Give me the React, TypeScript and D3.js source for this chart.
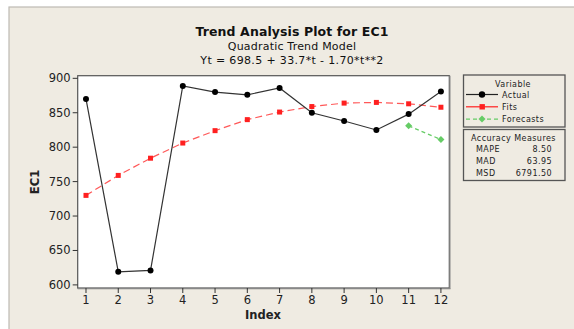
import React from "react";
import * as d3 from "d3";

const indexValues = [1, 2, 3, 4, 5, 6, 7, 8, 9, 10, 11, 12];
const actual = [870, 619, 621, 889, 880, 876, 886, 850, 838, 825, 848, 881];
const fits = [730, 759, 784, 806, 824, 840, 851, 859, 864, 865, 863, 858];
const forecastIndex = [11, 12];
const forecasts = [831, 811];
const yTicks = [600, 650, 700, 750, 800, 850, 900];
const accuracyLabels = ["MAPE", "MAD", "MSD"];
const accuracyValues = ["8.50", "63.95", "6791.50"];
const legendLabels = ["Actual", "Fits", "Forecasts"];

const FONT = "'DejaVu Sans', Verdana, sans-serif";

export default function App() {
  const W = 574, H = 329;
  const left = 77.7, right = 449.3, top = 75.7, bottom = 288;
  const x = d3.scaleLinear().domain([0.743, 12.26]).range([left, right]);
  const y = d3.scaleLinear().domain([595.5, 903.8]).range([bottom, top]);

  const lineA = d3.line<number>().x((_, i) => x(indexValues[i])).y((d) => y(d));
  const lineF = d3.line<number>().x((_, i) => x(indexValues[i])).y((d) => y(d));
  const lineC = d3.line<number>().x((_, i) => x(forecastIndex[i])).y((d) => y(d));

  const diamond = (cx: number, cy: number, r: number) =>
    `M${cx},${cy - r}L${cx + r},${cy}L${cx},${cy + r}L${cx - r},${cy}Z`;

  const black = "#222";
  const red = "#ff2020";
  const green = "#66cc66";
  const ls = 0.45;

  return (
    <svg width={W} height={H} style={{ position: "absolute", left: 0, top: 0 }} fontFamily={FONT}>
      <rect x={0} y={0} width={W} height={H} fill="#ffffff" />
      <rect x={9} y={7} width={W} height={H} fill="#efebe2" stroke="#bdbab3" strokeWidth={1.2} />
      {/* title */}
      <text x={292} y={36} textAnchor="middle" fontSize={12.5} fontWeight="bold" fill="#111" letterSpacing={0.1}>
        Trend Analysis Plot for EC1
      </text>
      <text x={292} y={49.5} textAnchor="middle" fontSize={11} fill="#111" letterSpacing={0.2}>
        Quadratic Trend Model
      </text>
      <text x={292} y={64} textAnchor="middle" fontSize={11} fill="#111" letterSpacing={0.35}>
        Yt = 698.5 + 33.7*t - 1.70*t**2
      </text>

      {/* plot area */}
      <rect x={left} y={top} width={right - left} height={bottom - top} fill="#ffffff" stroke="#555" strokeWidth={1.2} />
      <line x1={right + 0.6} x2={right + 0.6} y1={top} y2={bottom + 0.6} stroke="#888" strokeWidth={1.2} />
      <line x1={left} x2={right + 1.2} y1={bottom + 0.6} y2={bottom + 0.6} stroke="#888" strokeWidth={1.2} />

      {/* y axis */}
      {yTicks.map((t) => (
        <g key={t}>
          <line x1={left - 5} x2={left} y1={y(t)} y2={y(t)} stroke="#333" />
          <text x={left - 7} y={y(t) + 4} textAnchor="end" fontSize={11.5} fill="#222">
            {t}
          </text>
        </g>
      ))}
      {/* x axis */}
      {indexValues.map((t) => (
        <g key={t}>
          <line x1={x(t)} x2={x(t)} y1={bottom} y2={bottom + 5} stroke="#333" />
          <text x={x(t)} y={bottom + 16} textAnchor="middle" fontSize={11.5} fill="#222">
            {t}
          </text>
        </g>
      ))}
      <text x={263} y={319} textAnchor="middle" fontSize={11.5} fontWeight="bold" fill="#222">
        Index
      </text>
      <text transform={`translate(39,182) rotate(-90)`} textAnchor="middle" fontSize={11.5} fontWeight="bold" fill="#222">
        EC1
      </text>

      {/* series */}
      <path d={lineF(fits) || ""} fill="none" stroke={red} strokeOpacity={0.75} strokeWidth={1.2} strokeDasharray="7,4" />
      <path d={lineA(actual) || ""} fill="none" stroke="#333" strokeWidth={1.2} />
      <path d={lineC(forecasts) || ""} fill="none" stroke={green} strokeWidth={1.2} strokeDasharray="4,3" />
      {fits.map((d, i) => (
        <rect key={"f" + i} x={x(indexValues[i]) - 2.5} y={y(d) - 2.5} width={5} height={5} fill={red} />
      ))}
      {actual.map((d, i) => (
        <circle key={"a" + i} cx={x(indexValues[i])} cy={y(d)} r={3} fill="#000" />
      ))}
      {forecasts.map((d, i) => (
        <path key={"c" + i} d={diamond(x(forecastIndex[i]), y(d), 3.5)} fill={green} />
      ))}

      {/* legend */}
      <rect x={463.5} y={75} width={101.5} height={52} fill="#efebe2" stroke="#555" strokeWidth={1.3} />
      <text x={513} y={86.5} textAnchor="middle" fontSize={8} fill="#222" letterSpacing={ls}>Variable</text>
      {legendLabels.map((lab, i) => {
        const ly = 94.5 + i * 12.3;
        return (
          <g key={lab}>
            {i === 0 && (
              <>
                <line x1={466} x2={498} y1={ly} y2={ly} stroke={black} strokeWidth={1.2} />
                <circle cx={482} cy={ly} r={3.2} fill="#000" />
              </>
            )}
            {i === 1 && (
              <>
                <line x1={466} x2={498} y1={ly} y2={ly} stroke={red} strokeWidth={1.2} />
                <rect x={479.5} y={ly - 2.7} width={5.4} height={5.4} fill={red} />
              </>
            )}
            {i === 2 && (
              <>
                <line x1={466} x2={498} y1={ly} y2={ly} stroke={green} strokeWidth={1.2} strokeDasharray="4,3" />
                <path d={diamond(482, ly, 3.5)} fill={green} />
              </>
            )}
            <text x={502} y={ly + 3} fontSize={8} fill="#222" letterSpacing={ls}>{lab}</text>
          </g>
        );
      })}

      <rect x={463.5} y={129.5} width={101.5} height={51} fill="#efebe2" stroke="#555" strokeWidth={1.3} />
      <text x={513.5} y={140.5} textAnchor="middle" fontSize={8} fill="#222" letterSpacing={ls}>Accuracy Measures</text>
      {accuracyLabels.map((lab, i) => (
        <g key={lab}>
          <text x={476} y={152.3 + i * 12} fontSize={8} fill="#222" letterSpacing={ls}>{lab}</text>
          <text x={552} y={152.3 + i * 12} textAnchor="end" fontSize={8} fill="#222" letterSpacing={ls}>{accuracyValues[i]}</text>
        </g>
      ))}
    </svg>
  );
}
